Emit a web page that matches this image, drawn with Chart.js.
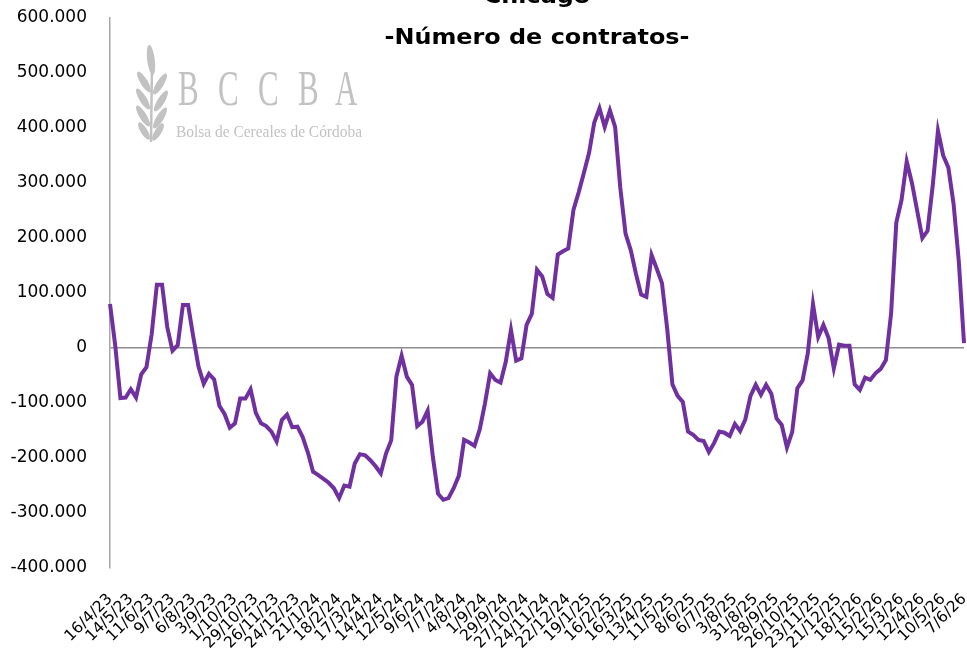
<!DOCTYPE html>
<html>
<head>
<meta charset="utf-8">
<script src="https://cdn.jsdelivr.net/npm/chart.js@4.4.0/dist/chart.umd.min.js"></script>
<style>
  html, body { margin: 0; padding: 0; background: #fff; }
  #wrap { width: 967px; height: 654px; }
</style>
</head>
<body>
<div id="wrap"><canvas id="myChart" width="967" height="654"></canvas></div>
<script>
const titleLines = ['Chicago', '-Número de contratos-']

// one label every 4 weeks
const tickLabels = ['16/4/23', '14/5/23', '11/6/23', '9/7/23', '6/8/23', '3/9/23', '1/10/23', '29/10/23',
  '26/11/23', '24/12/23', '21/1/24', '18/2/24', '17/3/24', '14/4/24', '12/5/24', '9/6/24', '7/7/24',
  '4/8/24', '1/9/24', '29/9/24', '27/10/24', '24/11/24', '22/12/24', '19/1/25', '16/2/25', '16/3/25',
  '13/4/25', '11/5/25', '8/6/25', '6/7/25', '3/8/25', '31/8/25', '28/9/25', '26/10/25', '23/11/25',
  '21/12/25', '18/1/26', '15/2/26', '15/3/26', '12/4/26', '10/5/26', '7/6/26']

// weekly net position (contracts)
const contratos = [
  80000, 5000, -91000, -90000, -75000, -90000, -48000, -35000, 25000, 115000,
  115000, 38000, -5000, 5000, 78000, 78000, 20000, -34000, -65000, -47000,
  -57000, -105000, -120000, -145000, -137000, -92000, -92000, -75000, -118000, -137000,
  -142000, -152000, -170000, -131000, -121000, -144000, -143000, -162000, -190000, -225000,
  -231000, -238000, -245000, -255000, -273000, -250000, -252000, -210000, -193000, -195000,
  -204000, -215000, -228000, -192000, -168000, -52000, -14000, -52000, -67000, -142000,
  -134000, -114000, -198000, -265000, -276000, -273000, -255000, -232000, -167000, -172000,
  -178000, -148000, -101000, -46000, -58000, -63000, -25000, 33000, -23000, -19000,
  42000, 62000, 142000, 130000, 98000, 91000, 170000, 176000, 181000, 251000,
  283000, 318000, 355000, 410000, 436000, 402000, 432000, 402000, 291000, 208000,
  178000, 135000, 97000, 93000, 169000, 144000, 118000, 35000, -66000, -87000,
  -98000, -152000, -158000, -167000, -169000, -189000, -173000, -152000, -154000, -160000,
  -138000, -151000, -130000, -87000, -67000, -85000, -67000, -83000, -128000, -140000,
  -181000, -153000, -73000, -59000, -10000, 80000, 20000, 42000, 18000, -37000,
  6000, 4000, 4000, -66000, -76000, -54000, -58000, -46000, -38000, -22000,
  63000, 228000, 269000, 339000, 300000, 250000, 200000, 213000, 296000, 395000,
  350000, 328000, 262000, 158000, 9000]

const yMin = -400000
const yMax = 600000
const yStep = 100000

const categories = contratos.map((v, i) => i % 4 === 0 ? tickLabels[i / 4] : '')

function miles(v) {
  if (v === 0) return '0'
  const s = Math.abs(v).toString().replace(/\B(?=(\d{3})+(?!\d))/g, '.')
  return (v < 0 ? '-' : '') + s
}

// title + BCCBA watermark
const overlay = {
  id: 'overlay',
  beforeDatasetsDraw(chart) {
    const ctx = chart.ctx
    ctx.save()
    ctx.fillStyle = '#c2c2c2'
    ctx.strokeStyle = '#c2c2c2'
    // wheat
    ctx.lineWidth = 2.5
    ctx.beginPath(); ctx.moveTo(151, 142); ctx.lineTo(152, 64); ctx.stroke()
    const leaf = (x, y, rx, ry, a) => { ctx.beginPath(); ctx.ellipse(x, y, rx, ry, a, 0, Math.PI * 2); ctx.fill() }
    leaf(151, 60, 3.8, 15, -0.12)
    leaf(144, 82, 3.6, 12, -0.55)
    leaf(143, 99, 3.6, 12, -0.55)
    leaf(143, 116, 3.6, 12, -0.55)
    leaf(144, 131, 3.4, 10, -0.55)
    leaf(160, 84, 3.6, 12, 0.55)
    leaf(161, 101, 3.6, 12, 0.55)
    leaf(160, 118, 3.6, 12, 0.55)
    leaf(158, 132, 3.4, 10, 0.55)
    // letters
    ctx.font = '50px "Liberation Serif"'
    ctx.textBaseline = 'alphabetic'
    const letters = 'BCCBA'
    const lx = [178, 218, 258, 298, 335]
    for (let k = 0; k < letters.length; k++) {
      ctx.save(); ctx.translate(lx[k], 105); ctx.scale(0.62, 1); ctx.fillText(letters[k], 0, 0); ctx.restore()
    }
    ctx.font = '16px "Liberation Serif"'
    const sub = 'Bolsa de Cereales de Córdoba'
    const w = ctx.measureText(sub).width
    ctx.save(); ctx.translate(176, 137); ctx.scale(186 / w, 1); ctx.fillText(sub, 0, 0); ctx.restore()
    ctx.restore()
  },
  afterDraw(chart) {
    const ctx = chart.ctx
    const a = chart.chartArea
    const cx = (a.left + a.right) / 2
    ctx.save()
    ctx.fillStyle = '#000'
    ctx.font = 'bold 21px "DejaVu Sans"'
    ctx.textAlign = 'center'
    ctx.textBaseline = 'alphabetic'
    const sx = 305 / ctx.measureText(titleLines[1]).width
    const ys = [3, 44]
    titleLines.forEach((t, k) => {
      ctx.save(); ctx.translate(cx, ys[k]); ctx.scale(sx, 1); ctx.fillText(t, 0, 0); ctx.restore()
    })
    ctx.restore()
  }
}

const ctx = document.getElementById('myChart').getContext('2d')
const chart = new Chart(ctx, {
  type: 'line',
  data: {
    labels: categories,
    datasets: [{
      label: titleLines[1],
      data: contratos,
      borderColor: '#7030a0',
      borderWidth: 4,
      pointRadius: 0,
      tension: 0,
      fill: false
    }]
  },
  options: {
    responsive: false,
    animation: false,
    layout: { padding: { top: 18, right: 3, left: 0, bottom: 0 } },
    plugins: {
      legend: { display: false },
      tooltip: { enabled: false },
      title: { display: false }
    },
    scales: {
      x: {
        offset: false,
        grid: { display: false },
        border: { display: false },
        ticks: {
          autoSkip: false,
          minRotation: 45,
          maxRotation: 45,
          color: '#000',
          padding: 14,
          font: { family: 'DejaVu Sans', size: 15.5 }
        },
        afterFit: s => { s.height = 86; s.paddingLeft = 0; s.paddingRight = 0 }
      },
      y: {
        min: yMin,
        max: yMax,
        ticks: {
          stepSize: yStep,
          color: '#000',
          padding: 23,
          font: { family: 'DejaVu Sans', size: 17 },
          callback: v => miles(v)
        },
        grid: {
          drawTicks: false,
          lineWidth: 1.5,
          color: c => (c.tick && c.tick.value === 0) ? '#8c8c8c' : 'rgba(0,0,0,0)'
        },
        border: { display: true, color: '#a6a6a6', width: 1.5 },
        afterFit: s => { s.width = 110; s.paddingTop = 0; s.paddingBottom = 0 }
      }
    }
  },
  plugins: [overlay]
})
</script>
</body>
</html>
